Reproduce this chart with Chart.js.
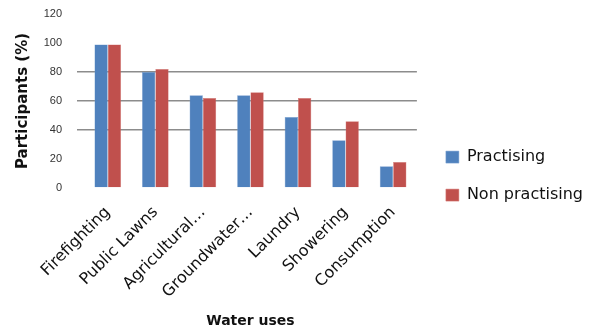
<!DOCTYPE html>
<html>
<head>
<meta charset="utf-8">
<script src="https://cdn.jsdelivr.net/npm/chart.js@4"></script>
<style>
  html, body { margin: 0; padding: 0; background: #fff; }
  #wrap { width: 593px; height: 333px; }
</style>
</head>
<body>
<div id="wrap"><canvas id="myChart" width="593" height="333"></canvas></div>
<script>
let uses = ["Firefighting", "Public Lawns", "Agricultural…", "Groundwater…", "Laundry", "Showering", "Consumption"];
let practising = [99, 80, 64, 64, 49, 33, 15];
let nonPractising = [99, 82, 62, 66, 62, 46, 18];
let yTicks = [0, 20, 40, 60, 80, 100, 120];

Chart.defaults.font.family = "'DejaVu Sans', sans-serif";
Chart.defaults.color = '#222';

// only the 40/60/80 lines are drawn across the plot
let gridColor = ctx => (ctx.tick && ctx.tick.value >= 40 && ctx.tick.value <= 80) ? '#8c8c8c' : 'rgba(0,0,0,0)';

let ctx = document.getElementById('myChart').getContext('2d');

let barChart = new Chart(ctx, {
  type: 'bar',
  data: {
    labels: uses,
    datasets: [{
      label: 'Practising',
      data: practising,
      backgroundColor: '#4F81BD',
      borderColor: '#7aa0d0',
      borderWidth: 0.5
    }, {
      label: 'Non practising',
      data: nonPractising,
      backgroundColor: '#C0504D',
      borderColor: '#d67a77',
      borderWidth: 0.5
    }]
  },
  options: {
    responsive: false,
    animation: false,
    layout: { padding: { top: 14, right: 0, left: 4, bottom: 3 } },
    datasets: { bar: { barPercentage: 1, categoryPercentage: 0.56 } },
    plugins: {
      tooltip: { enabled: false },
      legend: {
        position: 'right',
        maxWidth: 200,
        title: { display: true, text: ' ', font: { size: 6 }, padding: 0.5 },
        labels: {
          boxWidth: 13,
          boxHeight: 12,
          padding: 22,
          font: { size: 16 },
          color: '#111'
        }
      }
    },
    scales: {
      x: {
        afterFit: scale => { scale.height = 142; },
        grid: { display: false },
        border: { display: false },
        ticks: {
          minRotation: 45,
          maxRotation: 45,
          font: { size: 16 },
          color: '#111',
          padding: 7
        },
        title: {
          display: true,
          text: 'Water uses',
          font: { size: 14, weight: 'bold' },
          color: '#111',
          padding: { top: 0, bottom: 0 }
        }
      },
      y: {
        min: 0,
        max: 120,
        afterBuildTicks: axis => { axis.ticks = yTicks.map(v => ({ value: v })); },
        afterFit: scale => { scale.width = 80; scale.paddingTop = 0; },
        grid: {
          color: gridColor,
          tickColor: gridColor,
          lineWidth: 1.5,
          drawTicks: true,
          tickLength: 7
        },
        border: { display: false },
        ticks: { font: { family: "'Liberation Sans', sans-serif", size: 11 }, color: '#333', padding: 15 },
        title: {
          display: true,
          text: 'Participants (%)',
          font: { size: 15, weight: 'bold' },
          color: '#111',
          padding: { top: 10, bottom: 0 }
        }
      },
      // blank strip between the plot and the legend
      gap: {
        position: 'right',
        axis: 'y',
        display: true,
        afterFit: scale => { scale.width = 7; scale.paddingTop = 0; },
        grid: { display: false },
        border: { display: false },
        ticks: { display: false }
      }
    }
  }
});
</script>
</body>
</html>
